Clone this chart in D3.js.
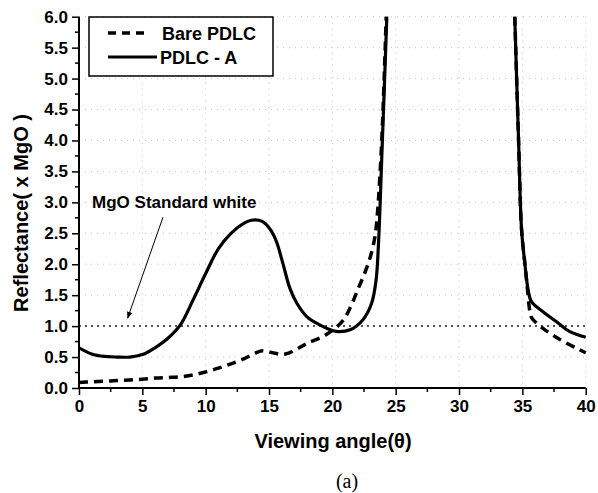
<!DOCTYPE html>
<html><head><meta charset="utf-8">
<script src="https://cdn.jsdelivr.net/npm/d3@7"></script>
<style>
body{margin:0;background:#fff;}
text{fill:#000;}
</style></head>
<body><svg id="c" width="598" height="493"></svg>
<script>
// ---- data ----
const xTicks = [0,5,10,15,20,25,30,35,40];
const yTicks = [0,0.5,1,1.5,2,2.5,3,3.5,4,4.5,5,5.5,6];
const seriesNames = ["Bare PDLC","PDLC - A"];
// Bare PDLC (dashed), two branches
const bareLeft = [[0,0.09],[1,0.10],[2,0.11],[3,0.12],[4,0.13],[5,0.14],[6,0.16],[7,0.17],[8,0.18],[9,0.21],[10,0.26],[11,0.32],[12,0.39],[13,0.47],[14,0.57],[14.5,0.60],[15.5,0.56],[16.3,0.55],[17.2,0.63],[18,0.72],[19.5,0.86],[20.8,1.08],[21.5,1.34],[22.05,1.61],[22.6,1.88],[23,2.12],[23.36,2.44],[23.55,2.8],[23.9,4.0],[24.25,6.0]];
const bareRight = [[34.4,6.0],[34.7,4.0],[34.94,2.55],[35.2,2.01],[35.4,1.6],[35.6,1.23],[35.75,1.13],[36.65,0.96],[38,0.78],[39.3,0.64],[40,0.57]];
// PDLC - A (solid), two branches
const pdlcLeft = [[0,0.65],[1,0.55],[2,0.51],[3,0.50],[4,0.50],[5,0.54],[6,0.65],[7,0.80],[8,1.02],[9,1.42],[10,1.85],[11,2.25],[12,2.50],[13,2.66],[13.6,2.71],[14.2,2.71],[14.7,2.66],[15.2,2.53],[15.6,2.36],[16.1,2.01],[16.65,1.61],[17.2,1.37],[18,1.15],[19,1.02],[20,0.93],[20.5,0.91],[21.4,0.94],[22.4,1.10],[23.1,1.37],[23.45,1.74],[23.63,2.28],[23.95,4.0],[24.3,6.0]];
const pdlcRight = [[34.4,6.0],[34.7,4.0],[34.94,2.55],[35.2,2.01],[35.46,1.58],[35.73,1.39],[36.65,1.23],[37.7,1.07],[38.75,0.91],[40,0.82]];
const standardWhite = 1.0;
// annotation anchors in data units
const annotText = {x:1.03, y:2.91, label:"MgO Standard white"};
const annotArrow = {x1:6.63, y1:2.76, x2:3.84, y2:1.13};

// ---- layout ----
const svg = d3.select("#c");
const L=79, R=585.7, T=16.7, B=388;
const x = d3.scaleLinear().domain([0,40]).range([L,R]);
const y = d3.scaleLinear().domain([0,6]).range([B,T]);
const SANS = "'Liberation Sans', Arial, sans-serif";
const SERIF = "'Liberation Serif', 'Times New Roman', serif";

svg.append("defs").append("clipPath").attr("id","clip")
  .append("rect").attr("x",L).attr("y",T-2).attr("width",R-L+2).attr("height",B-T+2);
const mk = svg.select("defs").append("marker").attr("id","arr")
  .attr("viewBox","0 0 10 10").attr("refX",9).attr("refY",5)
  .attr("markerWidth",7).attr("markerHeight",7).attr("orient","auto");
mk.append("path").attr("d","M0,1 L10,5 L0,9 Z").attr("fill","#000");

// faint dotted grid
const grid = svg.append("g").attr("stroke","#c4c4c4").attr("stroke-width",1).attr("stroke-dasharray","1,5");
yTicks.filter(v=>v>0 && v!==1).forEach(v=>{
  grid.append("line").attr("x1",L).attr("x2",R).attr("y1",y(v)).attr("y2",y(v));
});
xTicks.filter(v=>v>0).forEach(v=>{
  grid.append("line").attr("x1",x(v)).attr("x2",x(v)).attr("y1",T).attr("y2",B);
});

// reference line
svg.append("line").attr("x1",x(0)).attr("x2",x(40)).attr("y1",y(standardWhite)).attr("y2",y(standardWhite))
  .attr("stroke","#555").attr("stroke-width",2).attr("stroke-dasharray","2,4");

// curves
const line = d3.line().x(d=>x(d[0])).y(d=>y(d[1])).curve(d3.curveCatmullRom.alpha(0.5));
const gl = svg.append("g").attr("clip-path","url(#clip)").attr("fill","none").attr("stroke","#000");
[bareLeft,bareRight].forEach(s=>gl.append("path").attr("d",line(s)).attr("stroke-width",3.5).attr("stroke-dasharray","9,6"));
[pdlcLeft,pdlcRight].forEach(s=>gl.append("path").attr("d",line(s)).attr("stroke-width",3.2));

// axes
const yAxis = svg.append("g").attr("transform",`translate(${L},0)`)
  .call(d3.axisLeft(y).tickValues(yTicks).tickFormat(d3.format(".1f")).tickSize(7).tickPadding(4));
const xAxis = svg.append("g").attr("transform",`translate(0,${B})`)
  .call(d3.axisBottom(x).tickValues(xTicks).tickFormat(d3.format("d")).tickSize(7).tickPadding(5));
[yAxis,xAxis].forEach(a=>{
  a.select(".domain").attr("stroke","#000").attr("stroke-width",2);
  a.selectAll(".tick line").attr("stroke","#000").attr("stroke-width",1.5);
  a.selectAll("text").style("font-size","17px").style("font-family",SANS).style("font-weight","bold");
});
yAxis.select(".domain").attr("d",`M0,${B}V${T}`);
xAxis.select(".domain").attr("d",`M${L},0H${R}`);
// minor ticks
const yMinor = d3.range(0.25,6,0.5);
yAxis.selectAll(".mt").data(yMinor).enter().append("line")
  .attr("x1",-4).attr("x2",0).attr("y1",d=>y(d)).attr("y2",d=>y(d)).attr("stroke","#000").attr("stroke-width",1.5);
const xMinor = d3.range(2.5,40,5);
xAxis.selectAll(".mt").data(xMinor).enter().append("line")
  .attr("y1",0).attr("y2",4).attr("x1",d=>x(d)).attr("x2",d=>x(d)).attr("stroke","#000").attr("stroke-width",1.5);

function txt(sel, size, weight, fam){
  return sel.style("font-size",size+"px").style("font-weight",weight).style("font-family",fam||SANS);
}
// axis titles
txt(svg.append("text").attr("x",333).attr("y",448).attr("text-anchor","middle"),20,"bold").text("Viewing angle(θ)");
txt(svg.append("text").attr("transform","translate(28,213) rotate(-90)").attr("text-anchor","middle"),20,"bold").text("Reflectance( x MgO )");
txt(svg.append("text").attr("x",347).attr("y",488).attr("text-anchor","middle"),20,"normal",SERIF).text("(a)");

// annotation
txt(svg.append("text").attr("x",x(annotText.x)).attr("y",y(annotText.y)),17,"bold").text(annotText.label);
svg.append("line").attr("x1",x(annotArrow.x1)).attr("y1",y(annotArrow.y1)).attr("x2",x(annotArrow.x2)).attr("y2",y(annotArrow.y2))
  .attr("stroke","#000").attr("stroke-width",1).attr("marker-end","url(#arr)");

// legend
const lg = svg.append("g");
lg.append("rect").attr("x",89).attr("y",17).attr("width",184).attr("height",59).attr("fill","#fff").attr("stroke","#000").attr("stroke-width",1.5);
lg.append("line").attr("x1",108).attr("x2",150).attr("y1",33).attr("y2",33).attr("stroke","#000").attr("stroke-width",3.5).attr("stroke-dasharray","8,6");
lg.append("line").attr("x1",108).attr("x2",157).attr("y1",57).attr("y2",57).attr("stroke","#000").attr("stroke-width",3.2);
txt(lg.append("text").attr("x",162).attr("y",40),18,"bold").text(seriesNames[0]);
txt(lg.append("text").attr("x",160).attr("y",64),18,"bold").text(seriesNames[1]);
</script></body></html>
